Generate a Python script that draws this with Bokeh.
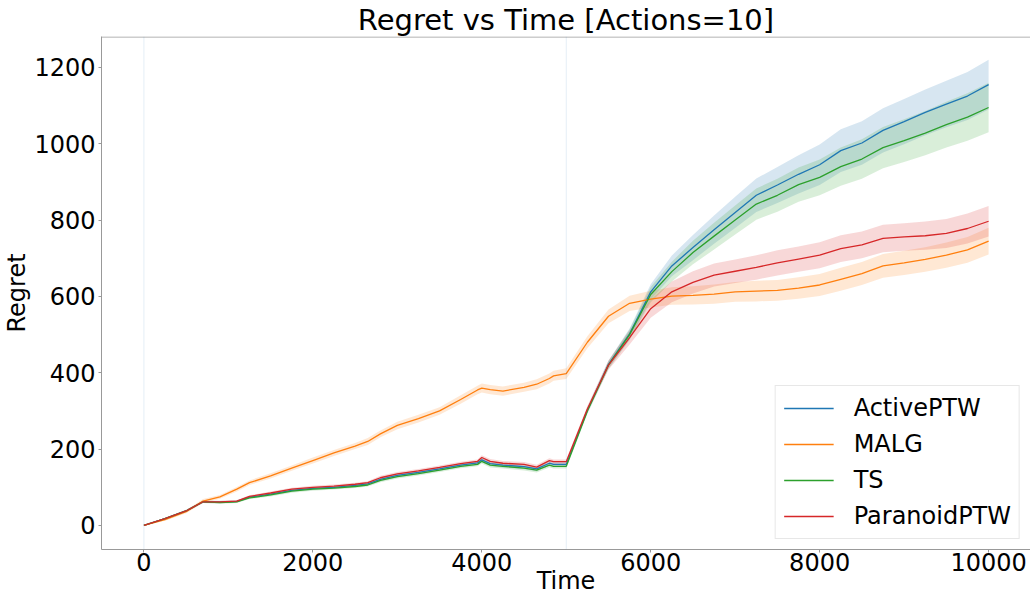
from bokeh.plotting import figure
from bokeh.models import Span, Legend, LegendItem, FixedTicker, Range1d
from bokeh.embed import file_html
from bokeh.resources import INLINE

# ---------------- data ----------------
times = [0, 250, 500, 700, 900, 1100, 1250, 1500, 1750, 2000, 2250, 2500, 2650, 2800,
         3000, 3250, 3500, 3750, 3950, 4000, 4100, 4250, 4500, 4650, 4800, 4850, 5000,
         5250, 5500, 5750, 6000, 6250, 6500, 6750, 7000, 7250, 7500, 7750, 8000, 8250,
         8500, 8750, 9000, 9250, 9500, 9750, 10000]

active_ptw = [0, 18, 38, 62, 61, 63, 74, 82, 92, 97, 100, 105, 109, 121, 131, 139, 148,
              158, 164, 172, 162, 158, 154, 148, 163, 160, 160, 302, 422, 502, 612, 680,
              728, 775, 820, 865, 892, 920, 945, 982, 1002, 1035, 1058, 1082, 1104, 1125, 1155]
active_ptw_spread = [0, 2, 3, 3, 3, 3, 3, 4, 4, 4, 4, 4, 4, 5, 5, 5, 5, 5, 5, 6, 6, 6, 6, 6,
                     6, 6, 6, 8, 10, 14, 20, 27, 33, 37, 41, 44, 47, 50, 53, 56, 57, 58, 59,
                     60, 61, 63, 65]

malg = [0, 15, 36, 64, 75, 95, 112, 130, 150, 170, 190, 208, 220, 240, 262, 280, 300, 330,
        355, 360, 356, 352, 362, 370, 385, 392, 398, 480, 548, 582, 593, 601, 603, 606, 612,
        614, 616, 622, 630, 645, 660, 680, 688, 697, 708, 722, 745]
malg_spread = [0, 3, 4, 5, 5, 6, 6, 7, 7, 8, 8, 8, 9, 9, 10, 10, 10, 11, 11, 12, 12, 12, 12,
               13, 13, 13, 14, 16, 18, 20, 22, 23, 24, 25, 26, 27, 27, 28, 29, 30, 30, 31,
               32, 32, 33, 34, 35]

ts = [0, 18, 38, 62, 60, 62, 72, 80, 90, 95, 98, 102, 106, 118, 128, 136, 145, 155, 160,
      168, 158, 155, 150, 145, 158, 155, 155, 300, 420, 500, 605, 665, 715, 758, 800, 842,
      865, 893, 912, 940, 960, 990, 1008, 1028, 1050, 1070, 1095]
ts_spread = [0, 2, 3, 3, 3, 3, 3, 4, 4, 4, 4, 4, 4, 5, 5, 5, 5, 5, 5, 6, 6, 6, 6, 6, 6, 6,
             6, 8, 10, 14, 20, 26, 31, 35, 38, 41, 43, 45, 47, 50, 52, 54, 56, 58, 60, 62, 65]

paranoid_ptw = [0, 18, 38, 62, 62, 64, 76, 85, 95, 100, 103, 108, 112, 125, 135, 143, 152,
                162, 168, 178, 168, 163, 160, 153, 170, 167, 167, 305, 420, 492, 568, 612,
                637, 656, 666, 676, 688, 698, 708, 725, 735, 752, 756, 759, 765, 778, 797]
paranoid_ptw_spread = [0, 2, 3, 3, 3, 3, 3, 4, 4, 4, 4, 4, 4, 5, 5, 5, 5, 5, 5, 6, 6, 6, 6,
                       6, 6, 6, 6, 8, 12, 18, 24, 27, 29, 30, 31, 32, 33, 33, 34, 35, 35, 36,
                       36, 37, 38, 39, 40]

series_names = ["ActivePTW", "MALG", "TS", "ParanoidPTW"]
series_values = [active_ptw, malg, ts, paranoid_ptw]
series_spreads = [active_ptw_spread, malg_spread, ts_spread, paranoid_ptw_spread]
series_colors = ["#1f77b4", "#ff7f0e", "#2ca02c", "#d62728"]

x_ticks = [0, 2000, 4000, 6000, 8000, 10000]
y_ticks = [0, 200, 400, 600, 800, 1000, 1200]
change_points = [0, 5000]

FONT = "DejaVu Sans"
SPINE = "#999999"
Y0, Y1 = -63, 1281

# ---------------- figure ----------------
p = figure(width=1030, height=601, output_backend="svg", toolbar_location=None,
           x_range=Range1d(-502, 10496), y_range=Range1d(Y0, Y1),
           min_border_left=99, min_border_right=0, min_border_top=34, min_border_bottom=52,
           title="Regret vs Time [Actions=10]", x_axis_label="Time", y_axis_label="Regret")
p.outline_line_color = None
p.xgrid.visible = False
p.ygrid.visible = False
p.background_fill_color = "white"
p.border_fill_color = "white"

p.title.text_font = FONT
p.title.text_font_size = "29px"
p.title.text_font_style = "normal"
p.title.text_color = "black"
p.title.align = "center"
p.title.standoff = 0
p.title.offset = 0

for ax, ticks in ((p.xaxis[0], x_ticks), (p.yaxis[0], y_ticks)):
    ax.ticker = FixedTicker(ticks=ticks)
    ax.major_label_text_font = FONT
    ax.major_label_text_font_size = "24px"
    ax.major_label_text_color = "black"
    ax.axis_label_text_font = FONT
    ax.axis_label_text_font_size = "24px"
    ax.axis_label_text_font_style = "normal"
    ax.axis_label_text_color = "black"
    ax.axis_line_color = SPINE
    ax.axis_line_width = 1
    ax.major_tick_line_color = SPINE
    ax.major_tick_in = 0
    ax.major_tick_out = 3
    ax.minor_tick_in = 0
    ax.minor_tick_out = 0
p.xaxis[0].major_label_standoff = 0
p.xaxis[0].axis_label_standoff = -7
p.yaxis[0].major_label_standoff = 3
p.yaxis[0].axis_label_standoff = 0

# top spine
p.add_layout(Span(location=Y1 - 1.3, dimension="width", line_color=SPINE, line_width=1))

for cp in change_points:
    p.add_layout(Span(location=cp, dimension="height", line_color="#1f77b4",
                      line_alpha=0.12, line_width=1))

# bands
for vals, spr, col in zip(series_values, series_spreads, series_colors):
    lo = [v - s for v, s in zip(vals, spr)]
    hi = [v + s for v, s in zip(vals, spr)]
    p.varea(x=times, y1=lo, y2=hi, fill_color=col, fill_alpha=0.18)

# lines
items = []
for name, vals, col in zip(series_names, series_values, series_colors):
    r = p.line(x=times, y=vals, line_color=col, line_width=1.3)
    items.append(LegendItem(label=name, renderers=[r]))

legend = Legend(items=items, location="bottom_right", margin=10,
                label_text_font=FONT, label_text_font_size="24px", label_text_color="black",
                glyph_width=50, glyph_height=28, label_height=28, label_standoff=20,
                padding=8, spacing=8, border_line_color="#d0d0d0", border_line_width=1,
                background_fill_color="white", background_fill_alpha=0.85)
p.add_layout(legend, "center")

open("out.html", "w").write(file_html(p, INLINE))
